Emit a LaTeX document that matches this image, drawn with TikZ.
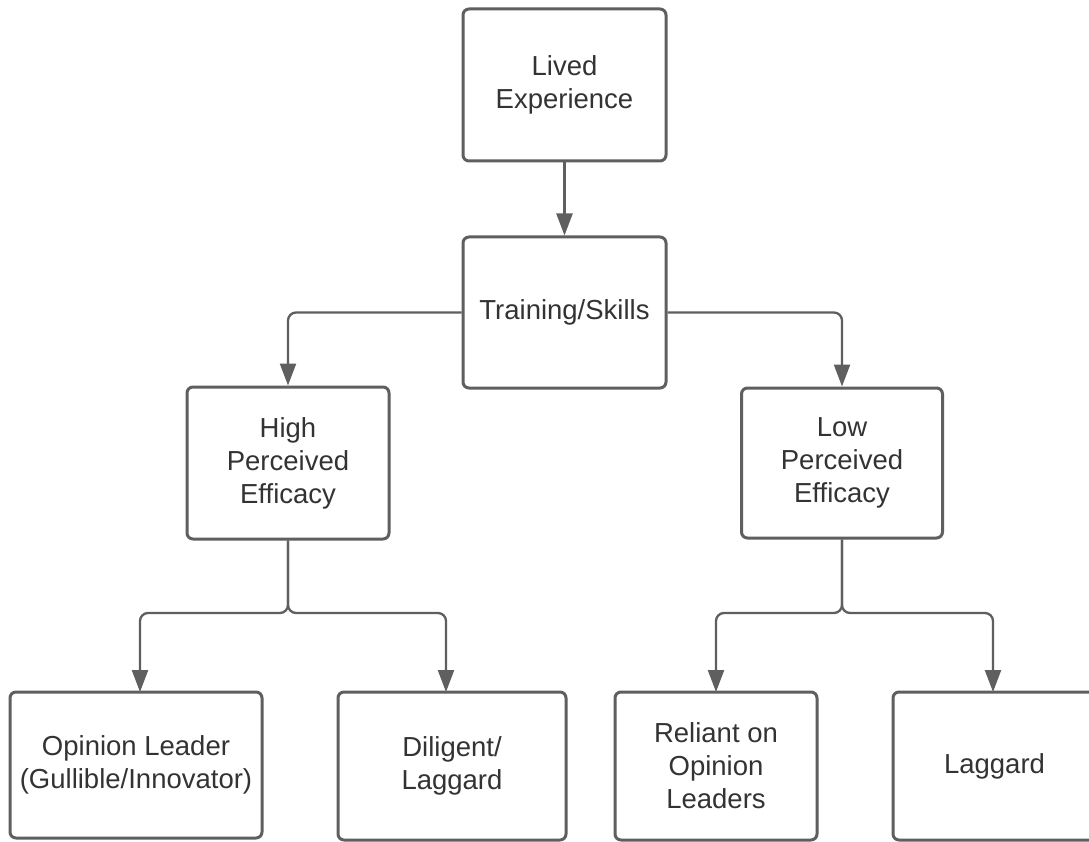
\documentclass[tikz,border=0pt]{standalone}
\usepackage{fontspec}
\setmainfont{Liberation Sans}
\usetikzlibrary{arrows.meta}
\definecolor{linegray}{HTML}{5F5F5F}
\definecolor{textgray}{HTML}{333333}
\tikzset{
  box/.style={draw=linegray, line width=3pt, rounded corners=6pt, fill=white,
    inner sep=0pt, align=center, text=textgray,
    font=\fontsize{27.5pt}{33pt}\selectfont},
  conn/.style={draw=linegray, line width=2.3pt, rounded corners=8pt,
    -{Triangle[length=22pt,width=16pt]}}
}
\begin{document}
\begin{tikzpicture}[x=1pt,y=-1pt]
\useasboundingbox (0,0) rectangle (1089,842);
\fill[white] (0,0) rectangle (1089,842);
\clip (0,0) rectangle (1089,842);
\node[box, minimum width=203pt, minimum height=152pt] (le) at (564.5,85) {Lived\\Experience};
\node[box, minimum width=203pt, minimum height=151pt] (ts) at (564.5,312.5) {Training/Skills};
\node[box, minimum width=202pt, minimum height=152pt] (hpe) at (288,463) {High\\Perceived\\Efficacy};
\node[box, minimum width=201pt, minimum height=150pt] (lpe) at (842,463) {Low\\Perceived\\Efficacy};
\node[box, minimum width=252pt, minimum height=146pt] (ol) at (136,765) {Opinion Leader\\(Gullible/Innovator)};
\node[box, minimum width=228pt, minimum height=148pt] (dl) at (452,766) {Diligent/\\Laggard};
\node[box, minimum width=202pt, minimum height=148pt] (ro) at (716,766) {Reliant on\\Opinion\\Leaders};
\node[box, minimum width=203pt, minimum height=148pt] (lg) at (994.5,766) {Laggard};
% junctions and targets
\coordinate (j1) at (288,613);
\coordinate (j2) at (842,613);
\coordinate (olin) at (140,692);
\coordinate (dlin) at (446,692);
\coordinate (roin) at (716,692);
\coordinate (lgin) at (993,692);
% connectors
\draw[conn] (le.south) -- (ts.north);
\draw[conn] (ts.west) -| (hpe.north);
\draw[conn] (ts.east) -| (lpe.north);
\draw[conn] (hpe.south) -- (j1) -| (olin);
\draw[conn] (hpe.south) -- (j1) -| (dlin);
\draw[conn] (lpe.south) -- (j2) -| (roin);
\draw[conn] (lpe.south) -- (j2) -| (lgin);
\end{tikzpicture}
\end{document}
